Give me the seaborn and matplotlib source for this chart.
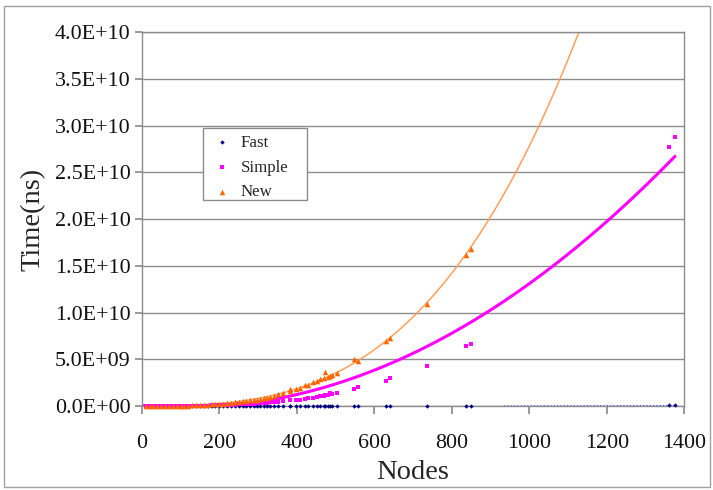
import numpy as np
import pandas as pd
import matplotlib
matplotlib.use("Agg")
import matplotlib.pyplot as plt
import seaborn as sns
from matplotlib.ticker import FuncFormatter, MultipleLocator
from matplotlib.patches import Rectangle

nodes = [10, 20, 30, 40, 50, 60, 70, 80, 90, 100, 110, 120, 130, 140, 150,
         160, 170, 180, 190, 200, 210, 220, 230, 240, 250, 260, 270, 280, 290,
         296, 305, 315, 322, 330, 340, 352, 365, 382, 383, 398, 408, 421, 430,
         443, 452, 460, 470, 473, 480, 486, 490, 503, 548, 559, 630, 640, 735,
         837, 849, 1360, 1376]

# times in units of 1e9 ns
fast_e9 = [0.000003, 0.000012, 0.000027, 0.00005, 0.000075, 0.00011, 0.00015,
           0.00019, 0.00024, 0.0003, 0.00036, 0.00043, 0.0005, 0.00059, 0.00068,
           0.00077, 0.00087, 0.00097, 0.0011, 0.0012, 0.0013, 0.0015, 0.0016,
           0.0017, 0.0019, 0.002, 0.0022, 0.0024, 0.0025, 0.0026, 0.0028, 0.003,
           0.0031, 0.0033, 0.0035, 0.0037, 0.004, 0.0044, 0.0044, 0.0048, 0.005,
           0.0053, 0.0055, 0.0059, 0.0061, 0.0063, 0.0066, 0.0067, 0.0069, 0.0071,
           0.0072, 0.0076, 0.009, 0.0094, 0.0119, 0.0123, 0.0162, 0.021, 0.0216,
           0.0555, 0.0568]

simple_e9 = [0.00001, 0.00009, 0.0003, 0.0007, 0.0014, 0.0024, 0.0038, 0.0056,
             0.008, 0.011, 0.0146, 0.019, 0.024, 0.030, 0.037, 0.045, 0.054,
             0.064, 0.075, 0.088, 0.10, 0.117, 0.134, 0.152, 0.172, 0.193, 0.217,
             0.241, 0.268, 0.285, 0.31, 0.34, 0.37, 0.40, 0.43, 0.48, 0.53, 0.61,
             0.62, 0.69, 0.64, 0.80, 0.87, 0.82, 1.0, 1.07, 1.12, 1.16, 1.2, 1.36,
             1.3, 1.36, 1.79, 2.0, 2.71, 2.97, 4.32, 6.39, 6.67, 27.65, 28.8]

new_e9 = [0.00003, 0.0002, 0.0008, 0.0018, 0.0035, 0.006, 0.0096, 0.0143, 0.0204,
          0.028, 0.037, 0.048, 0.062, 0.077, 0.095, 0.115, 0.138, 0.163, 0.192,
          0.224, 0.26, 0.30, 0.34, 0.39, 0.44, 0.49, 0.55, 0.61, 0.68, 0.64, 0.79,
          0.87, 0.85, 1.0, 1.1, 1.25, 1.36, 1.80, 1.62, 1.77, 1.9, 2.3, 2.25, 2.6,
          2.7, 2.86, 3.0, 3.67, 3.1, 3.2, 3.3, 3.5, 5.05, 4.8, 6.9, 7.25, 10.95,
          16.1, 16.8, 70.4, 72.9]

# trendline coefficients (highest power first, ns)
fast_trend_coef = [1.2e5, -1.12e8]          # linear
simple_trend_coef = [16855.0, -3.83e6, 6.0e7]  # polynomial, order 2
new_trend_order = 3                          # polynomial fit on the data

series_names = ["Fast", "Simple", "New"]
y_ticks_max = 4.0e10
y_step = 5.0e9
x_step = 200
x_max = 1400

sns.set_theme(style="white")
plt.rcParams['font.family'] = ['Liberation Serif', 'DejaVu Serif']

df = pd.DataFrame({
    "Nodes": nodes * 3,
    "Time": [v * 1e9 for v in fast_e9 + simple_e9 + new_e9],
    "Series": ["Fast"] * len(nodes) + ["Simple"] * len(nodes) + ["New"] * len(nodes),
})

colors = {"Fast": "#000080", "Simple": "#FF00FF", "New": "#FF6600"}
markers = {"Fast": "D", "Simple": "s", "New": "^"}
sizes = {"Fast": 5, "Simple": 7, "New": 16}
trend_colors = {"Fast": "#3344FF", "Simple": "#FF00FF", "New": "#FF9F5A"}
trend_lw = {"Fast": 0.9, "Simple": 2.2, "New": 1.1}
trend_ls = {"Fast": ":", "Simple": "-", "New": "-"}

fig = plt.figure(figsize=(7.13, 4.90), dpi=100)
ax = fig.add_axes([0.1989, 0.1714, 0.7608, 0.7633])

# trendlines
for name in series_names:
    sub = df[df.Series == name]
    xs = np.linspace(0, sub.Nodes.max(), 500)
    if name == "Fast":
        ys = np.polyval(fast_trend_coef, xs)
        ys = np.where(ys > 0, ys, np.nan)
    elif name == "Simple":
        ys = np.polyval(simple_trend_coef, xs)
    else:
        coef = np.polyfit(sub.Nodes, sub.Time, new_trend_order)
        ys = np.polyval(coef, xs)
    tdf = pd.DataFrame({"x": xs, "y": ys})
    sns.lineplot(data=tdf, x="x", y="y", ax=ax, color=trend_colors[name],
                 lw=trend_lw[name], ls=trend_ls[name], zorder=2, legend=False)

# points
for name in series_names:
    sub = df[(df.Series == name) & (df.Time <= y_ticks_max)]
    sns.scatterplot(data=sub, x="Nodes", y="Time", ax=ax, color=colors[name],
                    marker=markers[name], s=sizes[name], linewidth=0,
                    label=name, zorder=3, clip_on=False)

ax.set_xlim(0, x_max)
ax.set_ylim(0, y_ticks_max)
ax.xaxis.set_major_locator(MultipleLocator(x_step))
ax.yaxis.set_major_locator(MultipleLocator(y_step))
ax.yaxis.set_major_formatter(FuncFormatter(lambda v, p: f"{v:.1E}"))
ax.grid(axis="y", color="#8c8c8c", lw=1.0)
ax.grid(axis="x", visible=False)
for sp in ax.spines.values():
    sp.set_color("#8c8c8c")
    sp.set_linewidth(1.0)
ax.tick_params(axis="both", which="major", direction="out", color="#8c8c8c",
               labelsize=15.8, labelcolor="#111111")
ax.tick_params(axis="y", length=5, pad=3, left=True)
ax.tick_params(axis="x", length=6, pad=14, bottom=True)
ax.set_xlabel("Nodes", fontsize=20.5, labelpad=5)
ax.set_ylabel("Time(ns)", fontsize=20.5, labelpad=7)

leg = ax.legend(loc="upper left", bbox_to_anchor=(0.113, 0.748), frameon=False,
                fontsize=12.2, handlelength=1.2, handletextpad=0.5,
                borderpad=0.5, labelspacing=0.52, markerscale=1.0,
                borderaxespad=0)
ax.add_patch(Rectangle((0.1128, 0.551), 0.1917, 0.192, transform=ax.transAxes,
                       facecolor="white", edgecolor="#8c8c8c", lw=1.0,
                       zorder=4, clip_on=False))
leg.set_zorder(5)

fig.patches.append(Rectangle((0.006, 0.006), 0.99, 0.982, transform=fig.transFigure,
                             fill=False, edgecolor="#a0a0a0", lw=1.0))

fig.savefig("out.png", dpi=100)
